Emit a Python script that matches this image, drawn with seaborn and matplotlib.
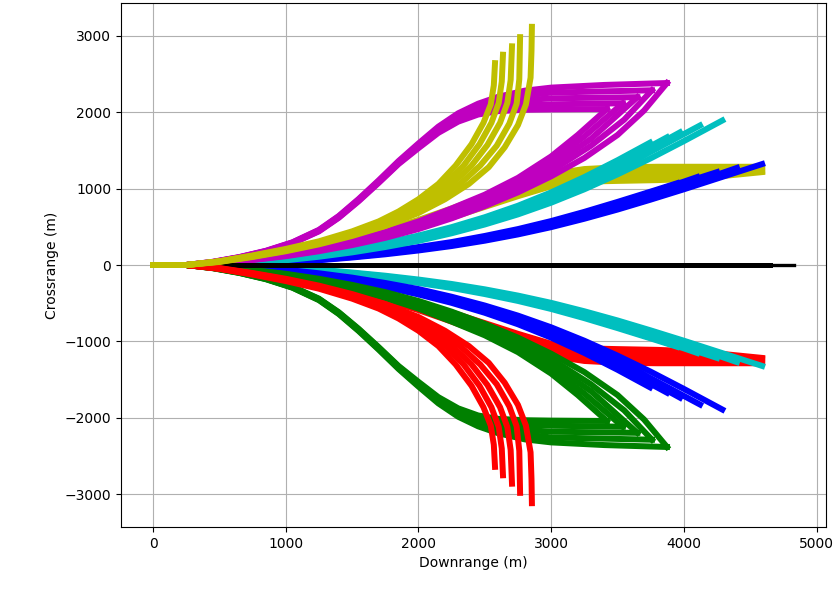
import matplotlib
matplotlib.use("Agg")
import matplotlib.pyplot as plt
import seaborn as sns

# ---------------- data (metres) ----------------
# Upper half of the plot; the lower half is its mirror image (same values,
# negative crossrange) drawn with swapped colours.

# yellow, fast-turning runs (vertical spikes)
YEL_FAST_X = [
    [0, 250, 500, 750, 1000, 1250, 1500, 1700, 1850, 2000, 2150, 2280, 2400, 2490, 2545, 2568, 2577],
    [0, 250, 500, 750, 1000, 1250, 1500, 1720, 1900, 2060, 2210, 2340, 2460, 2550, 2605, 2628, 2637],
    [0, 250, 500, 750, 1000, 1250, 1500, 1730, 1950, 2110, 2260, 2400, 2520, 2615, 2670, 2695, 2705],
    [0, 250, 500, 750, 1000, 1250, 1500, 1740, 1980, 2160, 2320, 2465, 2590, 2685, 2740, 2760, 2766],
    [0, 250, 500, 750, 1000, 1250, 1500, 1750, 2000, 2200, 2380, 2530, 2650, 2750, 2810, 2845, 2852, 2855],
]
YEL_FAST_Y = [
    [0, 0, 50, 125, 210, 310, 440, 570, 700, 860, 1060, 1300, 1580, 1860, 2100, 2350, 2640],
    [0, 0, 48, 120, 202, 298, 420, 555, 700, 870, 1070, 1300, 1580, 1860, 2120, 2400, 2750],
    [0, 0, 46, 115, 195, 290, 405, 540, 700, 870, 1070, 1300, 1570, 1860, 2120, 2420, 2860],
    [0, 0, 43, 110, 188, 280, 392, 525, 690, 870, 1070, 1300, 1560, 1850, 2110, 2430, 2980],
    [0, 0, 40, 105, 180, 270, 380, 510, 680, 860, 1060, 1280, 1540, 1830, 2100, 2450, 2800, 3115],
]

# yellow, slow runs (flatten out near 1100-1285 m)
YEL_SLOW_X = [0, 250, 500, 750, 1000, 1250, 1500, 1750, 2000, 2250, 2500, 2750, 3000, 3250, 3500, 3800, 4100, 4590]
YEL_SLOW_Y = [
    [0, 0, 35, 95, 165, 250, 350, 460, 590, 740, 900, 1060, 1190, 1255, 1278, 1285, 1285, 1285],
    [0, 0, 33, 90, 157, 238, 333, 440, 565, 710, 865, 1020, 1150, 1215, 1245, 1258, 1262, 1265],
    [0, 0, 31, 85, 150, 227, 318, 420, 540, 680, 830, 980, 1110, 1175, 1205, 1220, 1230, 1245],
    [0, 0, 29, 80, 142, 215, 302, 400, 515, 650, 795, 940, 1070, 1135, 1160, 1175, 1190, 1230],
    [0, 0, 27, 75, 135, 204, 287, 380, 490, 620, 760, 900, 1030, 1090, 1100, 1110, 1130, 1215],
]

# magenta, fast-turning runs (S-curve then flat)
MAG_FAST_X = [
    [0, 250, 450, 650, 850, 1050, 1250, 1400, 1550, 1700, 1850, 2000, 2150, 2300, 2450, 2600, 2800, 3000, 3420],
    [0, 250, 450, 650, 850, 1050, 1250, 1400, 1550, 1700, 1850, 2000, 2150, 2300, 2450, 2600, 2800, 3000, 3540],
    [0, 250, 450, 650, 850, 1050, 1250, 1400, 1550, 1700, 1850, 2000, 2150, 2300, 2450, 2600, 2800, 3000, 3650],
    [0, 250, 450, 650, 850, 1050, 1250, 1400, 1550, 1700, 1850, 2000, 2150, 2300, 2450, 2600, 2800, 3000, 3760],
    [0, 250, 450, 650, 850, 1050, 1250, 1400, 1550, 1700, 1850, 2000, 2150, 2300, 2450, 2600, 2800, 3000, 3400, 3873],
]
MAG_FAST_Y = [
    [0, 0, 36, 96, 174, 283, 440, 618, 835, 1073, 1320, 1528, 1728, 1875, 1968, 2012, 2030, 2035, 2040],
    [0, 0, 37, 98, 177, 287, 445, 624, 843, 1082, 1330, 1544, 1750, 1905, 2005, 2062, 2090, 2102, 2115],
    [0, 0, 39, 100, 180, 290, 450, 630, 850, 1090, 1340, 1560, 1770, 1930, 2040, 2110, 2155, 2180, 2195],
    [0, 0, 40, 102, 183, 294, 455, 636, 857, 1098, 1350, 1575, 1790, 1958, 2075, 2155, 2215, 2255, 2285],
    [0, 0, 42, 104, 186, 297, 460, 642, 865, 1107, 1360, 1590, 1810, 1985, 2110, 2200, 2280, 2320, 2355, 2380],
]

# magenta, slow runs (diagonal band)
MAG_SLOW_X = [
    [0, 250, 500, 750, 1000, 1250, 1500, 1750, 2000, 2250, 2500, 2750, 3000, 3200, 3420],
    [0, 250, 500, 750, 1000, 1250, 1500, 1750, 2000, 2250, 2500, 2750, 3000, 3250, 3540],
    [0, 250, 500, 750, 1000, 1250, 1500, 1750, 2000, 2250, 2500, 2750, 3000, 3300, 3650],
    [0, 250, 500, 750, 1000, 1250, 1500, 1750, 2000, 2250, 2500, 2750, 3000, 3300, 3550, 3760],
    [0, 250, 500, 750, 1000, 1250, 1500, 1750, 2000, 2250, 2500, 2750, 3000, 3250, 3500, 3700, 3873],
]
MAG_SLOW_Y = [
    [0, 0, 30, 80, 140, 220, 315, 430, 570, 740, 920, 1140, 1420, 1700, 2040],
    [0, 0, 29, 76, 133, 210, 302, 412, 548, 712, 885, 1095, 1360, 1680, 2115],
    [0, 0, 28, 73, 127, 200, 290, 395, 525, 682, 850, 1045, 1295, 1650, 2195],
    [0, 0, 27, 69, 121, 190, 275, 375, 498, 647, 810, 997, 1228, 1560, 1900, 2285],
    [0, 0, 25, 65, 115, 180, 260, 355, 470, 610, 770, 950, 1160, 1400, 1700, 2020, 2380],
]

# cyan (upper half)
CYA_X = [
    [0, 250, 500, 750, 1000, 1250, 1500, 1750, 2000, 2250, 2500, 2750, 3000, 3250, 3500, 3745],
    [0, 250, 500, 750, 1000, 1250, 1500, 1750, 2000, 2250, 2500, 2750, 3000, 3250, 3500, 3750, 3873],
    [0, 250, 500, 750, 1000, 1250, 1500, 1750, 2000, 2250, 2500, 2750, 3000, 3250, 3500, 3750, 3971],
    [0, 250, 500, 750, 1000, 1250, 1500, 1750, 2000, 2250, 2500, 2750, 3000, 3250, 3500, 3750, 4000, 4122],
    [0, 250, 500, 750, 1000, 1250, 1500, 1750, 2000, 2250, 2500, 2750, 3000, 3250, 3500, 3750, 4000, 4290],
]
CYA_Y = [
    [0, 0, 15, 45, 90, 145, 210, 290, 385, 495, 625, 775, 950, 1150, 1370, 1600],
    [0, 0, 14, 42, 84, 137, 200, 278, 370, 480, 605, 750, 920, 1115, 1330, 1555, 1670],
    [0, 0, 12, 38, 77, 128, 190, 265, 355, 460, 580, 725, 890, 1080, 1295, 1525, 1735],
    [0, 0, 11, 35, 72, 120, 180, 252, 333, 435, 550, 685, 845, 1030, 1240, 1480, 1712, 1825],
    [0, 0, 10, 30, 62, 108, 165, 235, 315, 415, 530, 662, 815, 990, 1185, 1395, 1620, 1890],
]

# blue (upper half)
BLU_X = [
    [0, 250, 500, 750, 1000, 1250, 1500, 1750, 2000, 2250, 2500, 2750, 3000, 3250, 3500, 3750, 3950],
    [0, 250, 500, 750, 1000, 1250, 1500, 1750, 2000, 2250, 2500, 2750, 3000, 3250, 3500, 3750, 4000, 4100],
    [0, 250, 500, 750, 1000, 1250, 1500, 1750, 2000, 2250, 2500, 2750, 3000, 3250, 3500, 3750, 4000, 4250],
    [0, 250, 500, 750, 1000, 1250, 1500, 1750, 2000, 2250, 2500, 2750, 3000, 3250, 3500, 3750, 4000, 4250, 4400],
    [0, 250, 500, 750, 1000, 1250, 1500, 1750, 2000, 2250, 2500, 2750, 3000, 3250, 3500, 3750, 4000, 4250, 4590],
]
BLU_Y = [
    [0, 0, 6, 22, 50, 85, 128, 178, 235, 300, 380, 470, 575, 695, 825, 960, 1070],
    [0, 0, 5, 20, 46, 79, 120, 168, 224, 287, 364, 452, 555, 675, 810, 950, 1090, 1150],
    [0, 0, 4, 18, 42, 74, 113, 159, 213, 275, 349, 435, 535, 655, 790, 935, 1075, 1215],
    [0, 0, 4, 16, 38, 68, 105, 150, 201, 261, 333, 418, 515, 630, 758, 897, 1035, 1180, 1270],
    [0, 0, 3, 14, 34, 62, 98, 140, 190, 248, 318, 400, 495, 605, 725, 855, 990, 1130, 1320],
]

# black (straight runs): a bundle to 4650 m and one longer run to 4830 m
BLK_X = [[0, 4650], [0, 4830]]
BLK_Y = [[0, 0], [0, 0]]
BLK_LW = [3.6, 2.4]

LW = 4.3

fig, ax = plt.subplots(figsize=(8.38, 5.91), dpi=100)
fig.subplots_adjust(left=0.1444, right=0.9857, bottom=0.1083, top=0.9949)


def draw(xs_list, ys_list, color, sign=1, lws=None):
    if not isinstance(xs_list[0], list):
        xs_list = [xs_list] * len(ys_list)
    if lws is None:
        lws = [LW] * len(ys_list)
    for xs, ys, lw in zip(xs_list, ys_list, lws):
        sns.lineplot(x=xs, y=[sign * v for v in ys], sort=False,
                     estimator=None, color=color, lw=lw, ax=ax)


# drawing order (later on top)
draw(YEL_SLOW_X, YEL_SLOW_Y, "y")
draw(YEL_SLOW_X, YEL_SLOW_Y, "r", -1)
draw(BLU_X, BLU_Y, "b")
draw(BLU_X, BLU_Y, "c", -1)
draw(CYA_X, CYA_Y, "c")
draw(CYA_X, CYA_Y, "b", -1)
draw(MAG_SLOW_X, MAG_SLOW_Y, "m")
draw(MAG_SLOW_X, MAG_SLOW_Y, "g", -1)
draw(BLK_X[::-1], BLK_Y[::-1], "k", lws=BLK_LW[::-1])
draw(MAG_FAST_X, MAG_FAST_Y, "m")
draw(MAG_FAST_X, MAG_FAST_Y, "g", -1)
draw(YEL_FAST_X, YEL_FAST_Y, "r", -1)
draw(YEL_FAST_X, YEL_FAST_Y, "y")

ax.grid(True)
ax.set_xlabel("Downrange (m)")
ax.set_ylabel("Crossrange (m)")

fig.savefig("out.png", dpi=100)
